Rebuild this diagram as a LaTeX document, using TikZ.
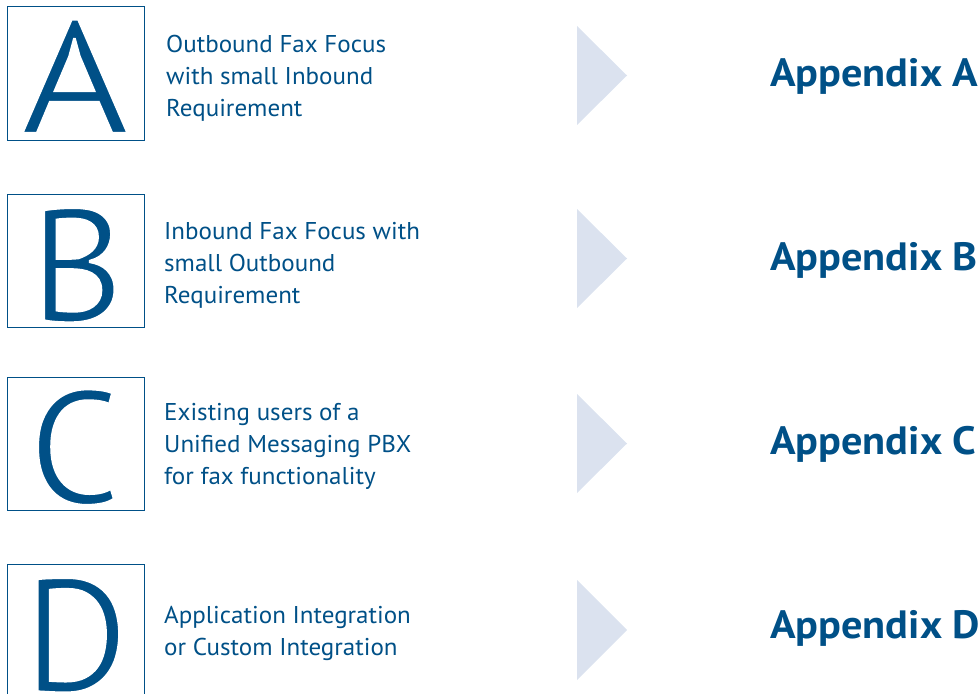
\documentclass[tikz,border=0pt]{standalone}
\usepackage{fontspec}
\setmainfont{PT Sans}
\newfontfamily\captionfont{PT Sans}[FakeStretch=1.03]
\newfontfamily\targetfont{PT Sans}[FakeStretch=1.07]
\newfontfamily\wideinitial{PT Sans}[FakeStretch=1.16]
% light rendering of the large initials: glyphs are filled, then their edge is stroked in white
\newcommand\lightglyph[1]{\special{pdf:literal direct q 2 Tr 1 G 3 w}#1\special{pdf:literal direct Q}}
\definecolor{ink}{RGB}{0,80,135}
\definecolor{chevron}{RGB}{219,226,239}
\begin{document}
\begin{tikzpicture}[x=1bp,y=-1bp,
  letterbox/.style={draw=ink,line width=1bp,minimum width=137bp,minimum height=133bp,
    anchor=north west,inner sep=0pt,outer sep=0pt},
  bigletter/.style={anchor=base,text=ink,inner sep=0pt,
    font=\fontsize{161bp}{161bp}\selectfont},
  caption/.style={anchor=base west,text=ink,inner sep=0pt,align=left,
    font=\captionfont\fontsize{24.3bp}{32bp}\selectfont},
  target/.style={anchor=base west,text=ink,inner sep=0pt,
    font=\targetfont\bfseries\fontsize{39.5bp}{40bp}\selectfont},
  pointer/.style={fill=chevron,draw=none}]
\useasboundingbox (0,0) rectangle (980,694);

% row A
\node[letterbox] (boxA) at (7,7) {};
\node[bigletter,font=\wideinitial\fontsize{161bp}{161bp}\selectfont] (letA) at (75,133.5) {\lightglyph{A}};
\node[caption] (capA) at (166,117) {Outbound Fax Focus\\with small Inbound\\Requirement};
\fill[pointer] (577,26) -- (627,75.5) -- (577,125) -- cycle;
\node[target] (appA) at (770,87) {Appendix A};

% row B
\node[letterbox] (boxB) at (7,194) {};
\node[bigletter] (letB) at (77,321.5) {\lightglyph{B}};
\node[caption] (capB) at (164,303) {Inbound Fax Focus with\\small Outbound\\Requirement};
\fill[pointer] (577,209) -- (627,258.5) -- (577,308) -- cycle;
\node[target] (appB) at (770,270) {Appendix B};

% row C
\node[letterbox] (boxC) at (7,377) {};
\node[bigletter] (letC) at (74.5,503.5) {\lightglyph{C}};
\node[caption] (capC) at (164,484) {Existing users of a\\Unified Messaging PBX\\for fax functionality};
\fill[pointer] (577,394) -- (627,443.5) -- (577,493) -- cycle;
\node[target] (appC) at (770,454) {Appendix C};

% row D (box runs past the lower edge)
\draw[ink,line width=1bp] (7,720) |- (144,564) -- (144,720);
\node[bigletter] (letD) at (76,691.5) {\lightglyph{D}};
\node[caption] (capD) at (164,655) {Application Integration\\or Custom Integration};
\fill[pointer] (577,580) -- (627,630) -- (577,680) -- cycle;
\node[target] (appD) at (770,638) {Appendix D};
\end{tikzpicture}
\end{document}
